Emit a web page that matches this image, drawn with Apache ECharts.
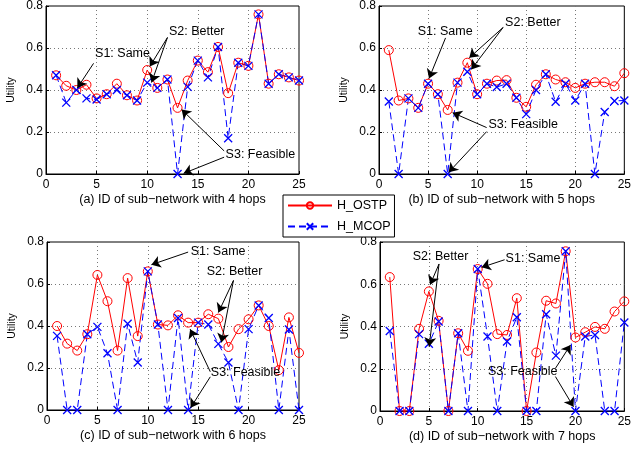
<!DOCTYPE html>
<html>
<head>
<meta charset="utf-8">
<script src="https://cdn.jsdelivr.net/npm/echarts@6/dist/echarts.min.js"></script>
<style>
  html, body { margin: 0; padding: 0; background: #fff; }
  #chart { width: 634px; height: 450px; }
</style>
</head>
<body>
<div id="chart"></div>
<script>
// sub-network IDs (x values)
const ids = [1, 2, 3, 4, 5, 6, 7, 8, 9, 10, 11, 12, 13, 14, 15, 16, 17, 18, 19, 20, 21, 22, 23, 24, 25]
const xTicks = [0, 5, 10, 15, 20, 25]
const yTicks = [0, 0.2, 0.4, 0.6, 0.8]

// (a) 4 hops
const ostp4 = [0.47, 0.42, 0.40, 0.425, 0.36, 0.38, 0.43, 0.375, 0.35, 0.495, 0.41, 0.45, 0.315, 0.445, 0.54, 0.485, 0.605, 0.385, 0.53, 0.515, 0.76, 0.43, 0.475, 0.46, 0.445]
const mcop4 = [0.47, 0.34, 0.40, 0.36, 0.355, 0.38, 0.40, 0.375, 0.35, 0.435, 0.41, 0.45, 0, 0.415, 0.54, 0.46, 0.605, 0.17, 0.53, 0.515, 0.76, 0.43, 0.475, 0.46, 0.445]
// (b) 5 hops
const ostp5 = [0.59, 0.35, 0.36, 0.315, 0.43, 0.38, 0.305, 0.435, 0.53, 0.38, 0.43, 0.445, 0.447, 0.363, 0.32, 0.425, 0.475, 0.45, 0.437, 0.41, 0.43, 0.437, 0.437, 0.418, 0.48]
const mcop5 = [0.345, 0, 0.36, 0.315, 0.43, 0.38, 0, 0.435, 0.487, 0.38, 0.43, 0.414, 0.43, 0.363, 0.285, 0.40, 0.475, 0.344, 0.43, 0.35, 0.43, 0, 0.295, 0.348, 0.35]
// (c) 6 hops
const ostp6 = [0.40, 0.316, 0.283, 0.361, 0.643, 0.518, 0.283, 0.628, 0.352, 0.66, 0.407, 0.403, 0.451, 0.416, 0.416, 0.456, 0.435, 0.30, 0.385, 0.432, 0.498, 0.40, 0.19, 0.441, 0.272]
const mcop6 = [0.353, 0, 0, 0.361, 0.396, 0.27, 0, 0.411, 0.226, 0.66, 0.407, 0, 0.438, 0, 0.416, 0.407, 0.315, 0.226, 0, 0.385, 0.498, 0.438, 0, 0.383, 0]
// (d) 7 hops
const ostp7 = [0.634, 0, 0, 0.389, 0.566, 0.427, 0, 0.368, 0.285, 0.672, 0.602, 0.364, 0.36, 0.534, 0, 0.277, 0.522, 0.509, 0.756, 0.348, 0.373, 0.398, 0.389, 0.471, 0.519]
const mcop7 = [0.379, 0, 0, 0.364, 0.318, 0.424, 0, 0.368, 0, 0.672, 0.353, 0, 0.329, 0.444, 0, 0, 0.458, 0.262, 0.756, 0, 0.353, 0.36, 0, 0, 0.419]

const subTitles = [
  '(a) ID of sub\u2212network with 4 hops',
  '(b) ID of sub\u2212network with 5 hops',
  '(c) ID of sub\u2212network with 6 hops',
  '(d) ID of sub\u2212network with 7 hops'
]

// annotation texts: [label, x, y] in data units (left edge, middle)
const notes = [
  [['S1: Same', 4.8, 0.575], ['S2: Better', 12.1, 0.677], ['S3: Feasible', 17.7, 0.094]],
  [['S1: Same', 3.9, 0.679], ['S2: Better', 12.8, 0.719], ['S3: Feasible', 11.1, 0.234]],
  [['S1: Same', 14.2, 0.755], ['S2: Better', 15.8, 0.657], ['S3: Feasible', 16.2, 0.179]],
  [['S2: Better', 3.3, 0.732], ['S1: Same', 12.8, 0.724], ['S3: Feasible', 11.0, 0.187]]
]
// arrows: from -> to, data units
const arrows = [
  [[[4.7, 0.527], [3.1, 0.41]], [[12.0, 0.65], [10.26, 0.512]], [[12.0, 0.65], [10.43, 0.436]], [[17.6, 0.11], [13.4, 0.307]], [[17.6, 0.08], [13.6, 0.003]]],
  [[[6.78, 0.648], [5.1, 0.455]], [[12.65, 0.698], [9.2, 0.553]], [[12.65, 0.698], [9.4, 0.498]], [[10.97, 0.221], [7.5, 0.292]], [[10.97, 0.202], [7.1, 0.008]]],
  [[[14.0, 0.752], [10.36, 0.692]], [[18.5, 0.617], [17.0, 0.464]], [[18.5, 0.617], [17.3, 0.322]], [[16.2, 0.182], [14.2, 0.385]], [[16.2, 0.158], [14.25, 0.011]]],
  [[[6.04, 0.696], [5.13, 0.598]], [[6.04, 0.696], [5.03, 0.305]], [[12.75, 0.716], [10.4, 0.68]], [[17.95, 0.202], [19.5, 0.313]], [[17.95, 0.163], [19.8, 0.02]]]
]

const ostp = [ostp4, ostp5, ostp6, ostp7]
const mcop = [mcop4, mcop5, mcop6, mcop7]

const font = '"Liberation Sans", Arial, Helvetica, sans-serif'
const grids = [
  { left: 46, top: 5, width: 253, height: 169 },
  { left: 379, top: 6, width: 251, height: 168 },
  { left: 47, top: 242, width: 252, height: 168 },
  { left: 380, top: 242, width: 249, height: 169 }
]

const chart = echarts.init(document.getElementById('chart'))

const gridLine = { show: true, showMinLine: false, showMaxLine: false, lineStyle: { color: '#777', type: [1, 3], width: 1 } }

const xAxes = []
const yAxes = []
const series = []
for (let i = 0; i < 4; i++) {
  xAxes.push({
    gridIndex: i,
    type: 'value',
    min: xTicks[0],
    max: xTicks[xTicks.length - 1],
    interval: 5,
    name: subTitles[i],
    nameLocation: 'middle',
    nameGap: 19,
    nameTextStyle: { color: '#000', fontSize: 12.5, fontFamily: font },
    axisLine: { show: true, lineStyle: { color: '#000', width: 1 } },
    axisTick: { show: true, inside: true, length: 3, lineStyle: { color: '#000' } },
    axisLabel: { color: '#000', fontSize: 12, fontFamily: font, margin: 5 },
    splitLine: gridLine
  })
  yAxes.push({
    gridIndex: i,
    type: 'value',
    min: yTicks[0],
    max: yTicks[yTicks.length - 1],
    interval: 0.2,
    name: 'Utility',
    nameLocation: 'middle',
    nameGap: 29,
    nameTextStyle: { color: '#000', fontSize: 10.5, fontFamily: font },
    axisLine: { show: true, lineStyle: { color: '#000', width: 1 } },
    axisTick: { show: true, inside: true, length: 3, lineStyle: { color: '#000' } },
    axisLabel: { color: '#000', fontSize: 12, fontFamily: font, margin: 3 },
    splitLine: gridLine
  })

  series.push({
    name: 'H_OSTP',
    type: 'line',
    xAxisIndex: i,
    yAxisIndex: i,
    data: ids.map((x, j) => [x, ostp[i][j]]),
    symbol: 'circle',
    symbolSize: 9,
    itemStyle: { color: 'rgba(0,0,0,0)', borderColor: '#ff0000', borderWidth: 1 },
    lineStyle: { color: '#ff0000', width: 1 },
    markPoint: {
      silent: true,
      symbol: 'circle',
      symbolSize: 1,
      itemStyle: { color: 'rgba(0,0,0,0)', borderWidth: 0 },
      label: {
        show: true,
        position: 'right',
        distance: 0,
        color: '#000',
        fontSize: 12.5,
        fontFamily: font,
        formatter: p => p.name
      },
      data: notes[i].map(n => ({ name: n[0], coord: [n[1], n[2]] }))
    },
    markLine: {
      silent: true,
      symbol: ['none', 'arrow'],
      symbolSize: 9,
      label: { show: false },
      lineStyle: { color: '#000', width: 1, type: 'solid' },
      emphasis: { disabled: true },
      data: arrows[i].map(a => [{ coord: a[0] }, { coord: a[1] }])
    }
  })
  series.push({
    name: 'H_MCOP',
    type: 'line',
    xAxisIndex: i,
    yAxisIndex: i,
    data: ids.map((x, j) => [x, mcop[i][j]]),
    symbol: 'path://M0,0L10,10M10,0L0,10',
    symbolSize: 8,
    itemStyle: { color: '#0000ff', borderColor: '#0000ff', borderWidth: 1.3 },
    lineStyle: { color: '#0000ff', width: 1, type: [7, 4] }
  })
}

chart.setOption({
  animation: false,
  backgroundColor: '#fff',
  textStyle: { fontFamily: font },
  grid: grids.map(g => Object.assign({ show: true, borderColor: '#000', borderWidth: 1, backgroundColor: '#fff' }, g)),
  legend: {
    data: ['H_OSTP', 'H_MCOP'],
    orient: 'vertical',
    left: 283,
    top: 195,
    itemWidth: 44,
    itemHeight: 8,
    itemGap: 8,
    padding: [4, 4, 4, 4],
    borderColor: '#000',
    borderWidth: 1,
    borderRadius: 0,
    backgroundColor: '#fff',
    textStyle: { color: '#000', fontSize: 12.5, fontFamily: font }
  },
  xAxis: xAxes,
  yAxis: yAxes,
  series: series
})
</script>
</body>
</html>
